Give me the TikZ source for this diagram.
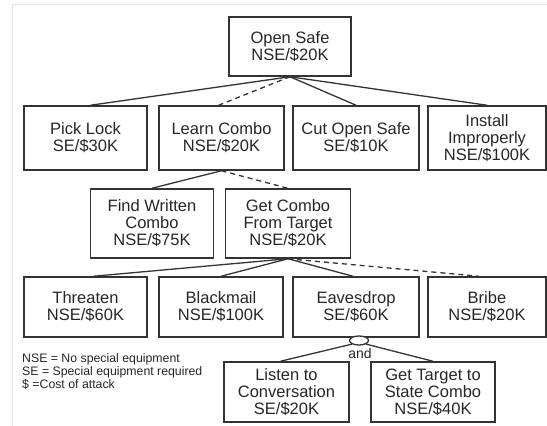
\documentclass[tikz,border=0pt]{standalone}
\usepackage{fontspec}
\setmainfont{Liberation Sans}
\usetikzlibrary{shapes.geometric}
\begin{document}
\begin{tikzpicture}[x=1pt,y=-1pt,
  box/.style={draw=black!80, line width=1.5pt, inner sep=0pt, align=center,
    text=black!85, font=\fontsize{16.5}{17}\selectfont},
  link/.style={draw=black!80, line width=1.3pt},
  maybe/.style={link, dash pattern=on 5pt off 4pt},
  frame/.style={draw=black!10, line width=1pt}]
\useasboundingbox (0,0) rectangle (547,426);
\draw[frame] (12,426) -- (12,4) -- (547,4);

% goal
\node[box, minimum width=122pt, minimum height=59pt] (os) at (290,46.5) {Open Safe\\NSE/\$20K};

% first level
\node[box, minimum width=123pt, minimum height=64pt] (pl) at (85.5,138) {Pick Lock\\SE/\$30K};
\node[box, minimum width=125pt, minimum height=64pt] (lc) at (221.5,138) {Learn Combo\\NSE/\$20K};
\node[box, minimum width=126pt, minimum height=64pt] (co) at (356,138) {Cut Open Safe\\SE/\$10K};
\node[box, minimum width=118pt, minimum height=64pt] (ii) at (487,138) {Install\\Improperly\\NSE/\$100K};

% second level
\node[box, minimum width=123pt, minimum height=69pt] (fw) at (152,223.5) {Find Written\\Combo\\NSE/\$75K};
\node[box, minimum width=125pt, minimum height=69pt] (gc) at (288,223.5) {Get Combo\\From Target\\NSE/\$20K};

% third level
\node[box, minimum width=123pt, minimum height=60pt] (th) at (85.5,307) {Threaten\\NSE/\$60K};
\node[box, minimum width=124pt, minimum height=60pt] (bm) at (221,307) {Blackmail\\NSE/\$100K};
\node[box, minimum width=126pt, minimum height=60pt] (ev) at (356,307) {Eavesdrop\\SE/\$60K};
\node[box, minimum width=118pt, minimum height=60pt] (br) at (487,307) {Bribe\\NSE/\$20K};

% fourth level
\node[box, minimum width=125pt, minimum height=60pt] (lt) at (286.5,392) {Listen to\\Conversation\\SE/\$20K};
\node[box, minimum width=124pt, minimum height=60pt] (gt) at (433,392) {Get Target to\\State Combo\\NSE/\$40K};

% connectors
\draw[link] (os.south) -- ([xshift=5pt]pl.north);
\draw[maybe] (os.south) -- ([xshift=-3pt]lc.north);
\draw[link] (os.south) -- (co.north);
\draw[link] (os.south) -- (ii.north);

\draw[link] (lc.south) -- (fw.north);
\draw[maybe] (lc.south) -- (gc.north);

\draw[link] (gc.south) -- ([xshift=8pt]th.north);
\draw[link] (gc.south) -- (bm.north);
\draw[link] (gc.south) -- ([xshift=-3pt]ev.north);
\draw[maybe] (gc.south) -- ([xshift=-8pt]br.north);

% and-decomposition
\node[ellipse, draw=black!80, line width=1.3pt, fill=white, minimum width=19pt,
  minimum height=9pt, inner sep=0pt] (andarc) at (359,340.5) {};
\node[text=black!85, font=\fontsize{14}{14}\selectfont] (andlbl) at (360,353) {and};
\draw[link] (andarc.south west) -- ([xshift=-6pt]lt.north);
\draw[link] (andarc.south east) -- (gt.north);

% legend (base anchor sits on the last line)
\node[anchor=base west, align=left, inner sep=0pt, text=black!85,
  font=\fontsize{12.3}{13}\selectfont] (legend) at (22,388)
  {NSE = No special equipment\\SE = Special equipment required\\\$ =Cost of attack};
\end{tikzpicture}
\end{document}
